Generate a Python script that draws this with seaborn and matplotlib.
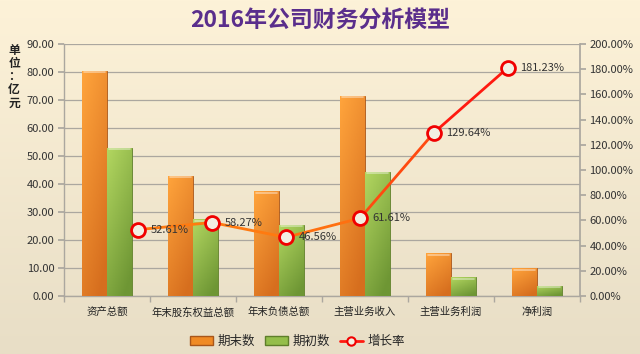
import numpy as np
import pandas as pd
import matplotlib
matplotlib.use('Agg')
import matplotlib.pyplot as plt
import seaborn as sns
from matplotlib.patches import Patch
from matplotlib.lines import Line2D

# data
categories = ['资产总额', '年末股东权益总额', '年末负债总额', '主营业务收入', '主营业务利润', '净利润']
end_values = [80.4, 43.0, 37.3, 71.4, 15.2, 9.9]      # 期末数
begin_values = [52.8, 27.3, 25.5, 44.3, 6.7, 3.6]     # 期初数
growth = [52.61, 58.27, 46.56, 61.61, 129.64, 181.23]  # 增长率 (%)
series_names = ['期末数', '期初数', '增长率']

sns.set_theme(style='white')
plt.rcParams['font.family'] = ['Noto Sans CJK SC', 'DejaVu Sans']
plt.rcParams['axes.unicode_minus'] = False

df = pd.DataFrame({
    '项目': categories * 2,
    '数值': end_values + begin_values,
    '类型': [series_names[0]] * len(categories) + [series_names[1]] * len(categories),
})

fig = plt.figure(figsize=(6.4, 3.54), dpi=100)

# beige gradient background
bg = fig.add_axes([0, 0, 1, 1], zorder=-10)
grad = np.linspace(0, 1, 256).reshape(-1, 1)
top_c = np.array([253, 242, 216]) / 255
bot_c = np.array([232, 222, 198]) / 255
img = top_c[None, None, :] * (1 - grad[:, :, None]) + bot_c[None, None, :] * grad[:, :, None]
bg.imshow(img, aspect='auto', extent=[0, 1, 0, 1])
bg.axis('off')

ax = fig.add_axes([0.1, 0.164, 0.806, 0.712])
ax.set_facecolor('none')

orange = '#F08A24'
green = '#94BE4A'
sns.barplot(data=df, x='项目', y='数值', hue='类型', palette=[orange, green],
            width=0.58, gap=0, ax=ax, legend=False, saturation=1,
            linewidth=0.6, zorder=3)

ax.set_ylim(0, 90)
ax.set_xlim(-0.5, len(categories) - 0.5)

# shade each bar with a gradient (lighter top-left, darker bottom-right)
shades = {
    'orange': (np.array([255, 164, 60]) / 255, np.array([214, 110, 30]) / 255, '#A8561A'),
    'green': (np.array([178, 214, 96]) / 255, np.array([110, 150, 52]) / 255, '#5E7E2A'),
}
for p in list(ax.patches):
    fc = p.get_facecolor()
    key = 'green' if fc[1] > 0.6 else 'orange'
    light, dark, edge = shades[key]
    p.set_edgecolor(edge)
    x0, y0 = p.get_x(), p.get_y()
    w, h = p.get_width(), p.get_height()
    if h <= 0:
        continue
    gy = np.linspace(0, 1, 64)[:, None]
    gx = np.linspace(0, 1, 16)[None, :]
    t = np.clip(0.75 * gy + 0.35 * gx, 0, 1)
    im = light[None, None, :] * (1 - t[:, :, None]) + dark[None, None, :] * t[:, :, None]
    art = ax.imshow(im, aspect='auto', extent=[x0, x0 + w, y0, y0 + h],
                    origin='upper', zorder=3.5)
    art.set_clip_path(p)
    # small top highlight
    ax.plot([x0 + w * 0.08, x0 + w * 0.92], [y0 + h - 0.5, y0 + h - 0.5],
            color='white', alpha=0.45, linewidth=1.2, zorder=3.6)

ax.set_yticks(np.arange(0, 91, 10))
ax.set_yticklabels([f'{v:.2f}' for v in np.arange(0, 91, 10)], fontsize=8, color='#333333')
ax.set_xticks(range(len(categories)))
ax.set_xticklabels(categories, fontsize=7.5, color='#222222')
ax.set_xlabel('')
ax.set_ylabel('')
ax.grid(axis='y', color='#ABA79F', linewidth=0.9, zorder=0)
ax.set_axisbelow(True)
for s in ['top', 'right']:
    ax.spines[s].set_visible(False)
for s in ['left', 'bottom']:
    ax.spines[s].set_color('#ABA79F')
    ax.spines[s].set_linewidth(1.0)
ax.tick_params(axis='y', which='major', length=4, color='#ABA79F', left=True, pad=3)
ax.tick_params(axis='x', which='major', length=0, pad=8)
# tick marks between categories on x axis
ax.set_xticks(np.arange(-0.5, len(categories), 1), minor=True)
ax.tick_params(axis='x', which='minor', length=4, color='#ABA79F', bottom=True)

# secondary axis for growth rate
ax2 = ax.twinx()
ax2.set_ylim(0, 200)
ax2.set_yticks(np.arange(0, 201, 20))
ax2.set_yticklabels([f'{v:.2f}%' for v in np.arange(0, 201, 20)], fontsize=8, color='#333333')
ax2.tick_params(axis='y', length=4, color='#ABA79F', right=True, pad=3)
for s in ['top', 'left', 'bottom']:
    ax2.spines[s].set_visible(False)
ax2.spines['right'].set_color('#ABA79F')

# line sits on its own horizontal scale (secondary category axis)
ax3 = ax2.twiny()
ax3.set_xlim(-1.0, 5.97)
ax3.set_ylim(0, 200)
ax3.axis('off')
xs = np.arange(len(growth))
seg_colors = ['#FF7A10', '#FF7A10', '#FF7010', '#FF4A10', '#FF1A10']
for i in range(len(growth) - 1):
    ax3.plot(xs[i:i + 2], growth[i:i + 2], color=seg_colors[i], linewidth=2, zorder=4,
             solid_capstyle='round')
ax3.plot(xs, growth, linestyle='none', marker='o', markersize=10,
         markerfacecolor='#F2EFE2', markeredgecolor='#F00000', markeredgewidth=2, zorder=5)
for x, v in zip(xs, growth):
    ax3.annotate(f'{v:.2f}%', (x, v), xytext=(9, 0), textcoords='offset points',
                 va='center', ha='left', fontsize=8, color='#333333', zorder=6)

# title
fig.text(0.5, 0.943, '2016年公司财务分析模型', ha='center', va='center',
         fontsize=16.5, fontweight='bold', color='#5A2E8C')

# unit label, stacked vertically
fig.text(0.022, 0.783, '单\n位\n：\n亿\n元', ha='center', va='center', fontsize=8.5,
         fontweight='bold', color='#222222', linespacing=1.0)

# legend
handles = [
    Patch(facecolor=orange, edgecolor='#A8561A', label=series_names[0]),
    Patch(facecolor=green, edgecolor='#5E7E2A', label=series_names[1]),
    Line2D([0], [0], color='#FF1A10', linewidth=2, marker='o', markersize=6,
           markerfacecolor='#F2EFE2', markeredgecolor='#F00000', markeredgewidth=1.5,
           label=series_names[2]),
]
fig.legend(handles=handles, loc='center', bbox_to_anchor=(0.465, 0.035), ncol=3,
           frameon=False, fontsize=9, handlelength=1.8, handleheight=0.7,
           columnspacing=0.8, handletextpad=0.4)

fig.savefig('out.png', dpi=100)
